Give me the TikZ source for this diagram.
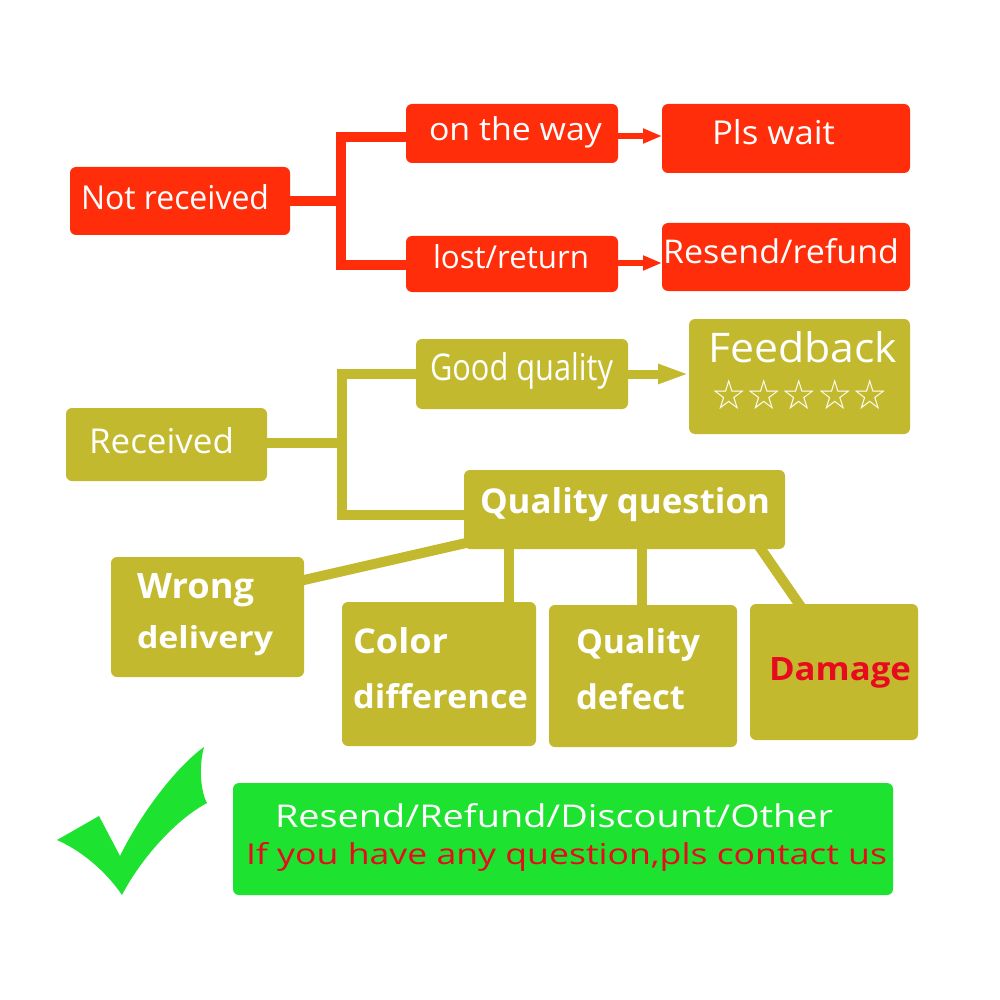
\documentclass[tikz,border=0pt]{standalone}
\usepackage{fontspec}
\setmainfont{Open Sans}
\newfontfamily\starfont{DejaVu Sans}
\usetikzlibrary{arrows.meta}
\pgfdeclarelayer{bg}
\pgfdeclarelayer{conn}
\pgfsetlayers{bg,conn,main}
\definecolor{rbox}{RGB}{255,45,10}
\definecolor{obox}{RGB}{195,185,46}
\definecolor{gbox}{RGB}{30,226,48}
\definecolor{rtext}{RGB}{232,10,30}
\newcommand\fitT[3]{\resizebox{#1pt}{#2pt}{#3}}
\begin{document}
\begin{tikzpicture}[x=1pt,y=-1pt,
  box/.style={inner sep=0pt, outer sep=0pt, rounded corners=6pt, draw=none},
  redbox/.style={box, fill=rbox},
  olivebox/.style={box, fill=obox},
  txt/.style={inner sep=0pt, outer sep=0pt, anchor=base west, text=white, font=\fontsize{30}{36}\selectfont},
  btxt/.style={txt, font=\fontsize{30}{36}\selectfont\bfseries},
  rline/.style={draw=rbox, line width=10pt},
  rarrow/.style={draw=rbox, line width=6pt, -{Triangle[length=19pt,width=14pt]}},
  oline/.style={draw=obox, line width=10pt},
  oarrow/.style={draw=obox, line width=9pt, -{Triangle[length=31pt,width=18pt]}},
  ext/.style={shorten <=-8pt, shorten >=-8pt},
]
\begin{pgfonlayer}{bg}
\fill[white] (0,0) rectangle (1000,1000);
\end{pgfonlayer}
\useasboundingbox (0,0) rectangle (1000,1000);

% ---------- boxes ----------
\node[redbox, minimum width=220pt, minimum height=68pt] (nr) at (180,201) {};
\node[redbox, minimum width=212pt, minimum height=59pt] (way) at (512,133.5) {};
\node[redbox, minimum width=248pt, minimum height=69pt] (wait) at (786,138.5) {};
\node[redbox, minimum width=212pt, minimum height=56pt] (lost) at (512,264) {};
\node[redbox, minimum width=248pt, minimum height=68pt] (resend) at (786,257) {};

\node[olivebox, minimum width=201pt, minimum height=73pt] (rec) at (166.5,444.5) {};
\node[olivebox, minimum width=212pt, minimum height=70pt] (good) at (522,374) {};
\node[olivebox, minimum width=221pt, minimum height=115pt] (feed) at (799.5,376.5) {};
\node[olivebox, minimum width=321pt, minimum height=79pt] (qq) at (624.5,509.5) {};
\node[olivebox, minimum width=193pt, minimum height=120pt] (wrong) at (207.5,617) {};
\node[olivebox, minimum width=194pt, minimum height=144pt] (color) at (439,674) {};
\node[olivebox, minimum width=188pt, minimum height=142pt] (defect) at (643,676) {};
\node[olivebox, minimum width=168pt, minimum height=136pt] (damage) at (834,672) {};

\node[box, fill=gbox, minimum width=660pt, minimum height=112pt] (green) at (563,839) {};

\begin{pgfonlayer}{conn}
% ---------- red connectors ----------
\coordinate (rj) at (341,201);
\draw[rline] (nr.east) -- (rj);
\draw[rline] ([yshift=-3.5pt]way.west) -| (rj) |- ([yshift=-1pt]lost.west);
\draw[rarrow] ([yshift=-2.5pt]way.east) -- ([yshift=-2.5pt]way.east -| wait.west);
\draw[rarrow] ([yshift=1pt]lost.east) -- ([yshift=1pt]lost.east -| resend.west);

% ---------- olive connectors ----------
\coordinate (oj) at (342,443);
\draw[oline] ([yshift=1.5pt]rec.east) -- (oj);
\draw[oline] (good.west) -| (oj) |- ([yshift=-5.5pt]qq.west);
\draw[oarrow] (good.east) -- (good.east -| feed.west);
\draw[oline, ext] ([xshift=2pt,yshift=6pt]qq.south west) -- ([yshift=-23pt]wrong.north east);
\draw[oline, ext] ([xshift=70pt]color.north) -- ([xshift=70pt]color.north |- qq.south);
\draw[oline, ext] ([xshift=-1pt]defect.north) -- ([xshift=-1pt]defect.north |- qq.south);
\draw[oline, ext] ([xshift=-24pt]qq.south east) -- ([xshift=49pt]damage.north west);
\end{pgfonlayer}

% ---------- text ----------
\node[txt] (t-nr) at (81,210) {\fitT{188}{25}{Not received}};
\node[txt] (t-way) at (429,141) {\fitT{173}{24}{on the way}};
\node[txt] (t-wait) at (712,145) {\fitT{123}{25}{Pls wait}};
\node[txt] (t-lost) at (433,269) {\fitT{156}{24}{lost/return}};
\node[txt] (t-resend) at (663,263) {\fitT{236}{25}{Resend/refund}};

\node[txt] (t-rec) at (89,453) {\fitT{145}{26}{Received}};
\node[txt] (t-good) at (430,380) {\fitT{183}{28}{Good quality}};
\node[txt] (t-feed) at (708,362) {\fitT{189}{31}{Feedback}};
\node[inner sep=0pt, outer sep=0pt, anchor=north west, text=white, font=\starfont\fontsize{30}{36}\selectfont] (t-stars) at (711,380) {\resizebox*{177pt}{30pt}{☆☆☆☆☆}};

\node[btxt] (t-qq) at (480,513) {\fitT{290}{26}{Quality question}};
\node[btxt] (t-wrong1) at (137,598) {\fitT{117}{25}{Wrong}};
\node[btxt] (t-wrong2) at (137,648) {\fitT{136}{23}{delivery}};
\node[btxt] (t-color1) at (353,653) {\fitT{95}{26}{Color}};
\node[btxt] (t-color2) at (353,708) {\fitT{175}{25}{difference}};
\node[btxt] (t-def1) at (576,653) {\fitT{124}{25}{Quality}};
\node[btxt] (t-def2) at (576,709) {\fitT{109}{26}{defect}};
\node[btxt, text=rtext] (t-dam) at (769,680) {\fitT{142}{23}{Damage}};

\node[txt] (t-g1) at (275,827) {\fitT{558}{24}{Resend/Refund/Discount/Other}};
\node[txt, text=rtext] (t-g2) at (246,864) {\fitT{641}{22}{If you have any question,pls contact us}};

% ---------- check mark ----------
\fill[gbox] (57,840) -- (99,816) -- (120,856)
  .. controls (140,815) and (175,768) .. (204,747)
  .. controls (199,765) and (200,790) .. (207,803)
  .. controls (175,820) and (140,860) .. (122,895)
  .. controls (105,870) and (80,850) .. (57,840) -- cycle;
\end{tikzpicture}
\end{document}
